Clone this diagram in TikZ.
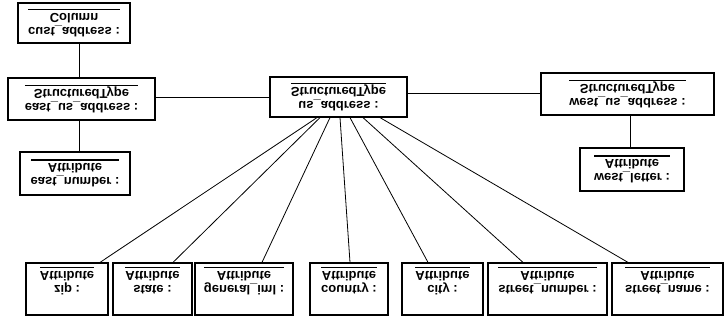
\documentclass[tikz,border=0pt]{standalone}
\usepackage{fontspec}
\setmainfont{Liberation Sans}
\usepackage{array}
\usetikzlibrary{positioning}
\setlength{\arrayrulewidth}{1.1pt}

% object label: name, type, rule under both
\newcommand{\objtext}[3][0pt]{%
  \begin{tabular}{@{}c@{}}\rule{0pt}{#1}#2\\ #3\\[-1pt]\hline\end{tabular}}

\begin{document}
\begin{tikzpicture}[
    x=1pt, y=1pt, yscale=-1, transform shape,
    objbox/.style={draw, line width=1.2pt, inner sep=2pt,
      font=\fontsize{13}{14}\selectfont\bfseries},
    link/.style={line width=0.8pt}
]
\useasboundingbox (0,0) rectangle (725,320);

% the structured types
\node[objbox, minimum width=112, minimum height=40] (cust) at (74,23)
  {\objtext{cust\_address :}{Column}};
\node[objbox, minimum width=147, minimum height=42] (eastus) at (81.5,99)
  {\objtext{east\_us\_address :}{StructuredType}};
\node[objbox, minimum width=110, minimum height=43] (eastnum) at (75,173.5)
  {\objtext{east\_number :}{Attribute}};
\node[objbox, minimum width=137, minimum height=40] (usaddr) at (338.5,97)
  {\objtext{us\_address :}{StructuredType}};
\node[objbox, minimum width=173, minimum height=42] (westus) at (627.5,94)
  {\objtext{west\_us\_address :}{StructuredType}};
\node[objbox, minimum width=104, minimum height=43] (westletter) at (632,169.5)
  {\objtext{west\_letter :}{Attribute}};

% the attributes of us_address
\foreach \n/\x/\w/\lab in {zip/67/82/zip, state/152.5/79/state,
    general/244/98/general\_iml, country/349/78/country,
    city/442.5/81/city, stnumber/547.5/119/street\_number,
    stname/667.5/111/street\_name} {
  \node[objbox, minimum width=\w, minimum height=52] (\n) at (\x,289)
    {\objtext[26pt]{\lab\ :}{Attribute}};
}

% connectors
\draw[link] ([xshift=5]cust.north) -- ([xshift=5]cust.north |- eastus.south);
\draw[link] ([xshift=4]eastnum.south) -- ([xshift=4]eastnum.south |- eastus.north);
\draw[link] (usaddr.west) -- (usaddr.west -| eastus.east);
\draw[link] ([yshift=-4]usaddr.east) -- ([yshift=-4]usaddr.east -| westus.west);
\draw[link] ([xshift=2.5]westus.north) -- ([xshift=2.5]westus.north |- westletter.south);

\foreach \n/\s/\t in {zip/-21.5/33, state/-18.5/20.5, general/-8.5/18,
    country/1.5/1, city/11.5/-14.5, stnumber/24.5/-24.5, stname/41.5/-39.5} {
  \draw[link] ([xshift=\s]usaddr.north) -- ([xshift=\t]\n.south);
}
\end{tikzpicture}
\end{document}
